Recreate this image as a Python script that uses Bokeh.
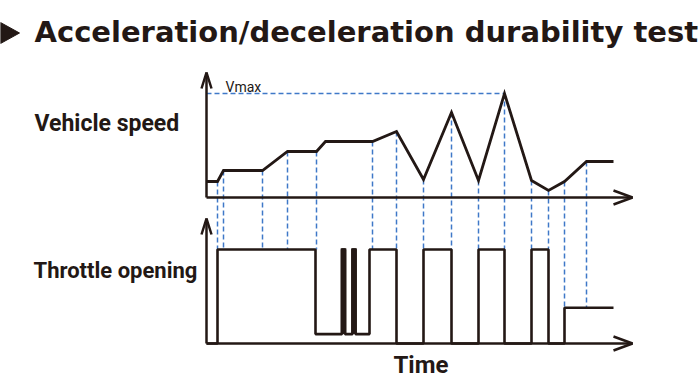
from bokeh.plotting import figure
from bokeh.models import Range1d
from bokeh.core.properties import value
from bokeh.embed import file_html
from bokeh.resources import INLINE

# ---- data (time in arbitrary units, speed & throttle in arbitrary units) ----
speed_t = [0, 11, 17, 56, 81, 110, 119, 166, 190, 217, 245, 272, 298, 325, 342, 358, 380, 407]
speed_v = [16, 16, 27, 27, 46, 46, 56, 56, 66, 18, 85, 17, 104, 17, 7, 16, 36, 36]
vmax = 104
vmax_t = 298

thr_t = [0, 11, 109, 135.5, 138.5, 146, 149, 163, 190, 217, 245, 272, 298, 325, 342, 358, 407]
thr_v = [0, 100, 10, 100, 10, 100, 10, 100, 0, 100, 0, 100, 0, 100, 0, 38, 38]

dash_t = [11, 17, 56, 81, 110, 166, 190, 217, 245, 272, 298, 325, 342, 358, 380]

title = "Acceleration/deceleration durability test"
speed_label = "Vehicle speed"
thr_label = "Throttle opening"
time_label = "Time"
vmax_label = "Vmax"

# ---- layout (canvas units) ----
X0 = 206          # time axis origin
SPEED_BASE = 197  # speed axis baseline
THR_BASE = 343    # throttle axis baseline
THR_SCALE = 0.94
X_END = 632
BLACK = "#231815"
BLUE = "#3f78c8"

def tx(t):
    return X0 + t

def sy(v):
    return SPEED_BASE - v

def ty(v):
    return THR_BASE - v * THR_SCALE

def thr_at(t):
    val = thr_v[0]
    for tt, vv in zip(thr_t, thr_v):
        if tt <= t:
            val = vv
    return val

p = figure(width=700, height=389, output_backend="svg", toolbar_location=None,
           x_range=Range1d(0, 700), y_range=Range1d(389, 0), min_border=0)
p.axis.visible = False
p.grid.visible = False
p.outline_line_color = None
p.background_fill_color = "white"

# dashed guides
xs, ys = [], []
for t in dash_t:
    sv = speed_v[speed_t.index(t)]
    top_thr = max(thr_at(t - 3), thr_at(t), thr_at(t + 3))
    xs.append([tx(t), tx(t)])
    ys.append([sy(sv), ty(top_thr)])
xs.append([tx(0), tx(vmax_t)])
ys.append([sy(vmax), sy(vmax)])
p.multi_line(xs, ys, line_color=BLUE, line_width=1.5, line_dash="5 3")

# axes with arrows
for base, top in [(SPEED_BASE, 72), (THR_BASE, 218)]:
    p.line([X0, X0], [base, top], line_color=BLACK, line_width=2.5)
    p.line([X0 - 5, X0, X0 + 5], [top + 16, top, top + 16], line_color=BLACK, line_width=2.5)
    p.line([X0, X_END], [base, base], line_color=BLACK, line_width=2.5)
    p.line([X_END - 19, X_END, X_END - 19], [base - 7, base, base + 7], line_color=BLACK, line_width=2.5)

# speed curve
p.line([tx(t) for t in speed_t], [sy(v) for v in speed_v], line_color=BLACK, line_width=2.8,
       line_join="miter")

# throttle
p.step([tx(t) for t in thr_t], [ty(v) for v in thr_v], mode="after", line_color=BLACK,
       line_width=2.6)
# short full-throttle pulses drawn as solid bars
ql, qr, qt, qb = [], [], [], []
for i in range(len(thr_t) - 1):
    if thr_v[i] == 100 and thr_t[i + 1] - thr_t[i] < 6:
        ql.append(tx(thr_t[i]) - 1.3)
        qr.append(tx(thr_t[i + 1]) + 1.3)
        qt.append(ty(100) - 1.3)
        qb.append(ty(thr_v[i + 1]))
p.quad(left=ql, right=qr, top=qt, bottom=qb, color=BLACK, line_width=0)

# texts
p.patch([0, 19, 0], [22, 32.5, 43], color=BLACK)
p.text([34], [31], text=[title], text_font=value("DejaVu Sans"), text_font_style="bold",
       text_font_size="29px", text_color=BLACK, text_baseline="alphabetic")
p.text([34], [123], text=[speed_label], text_font=value("Roboto"), text_font_style="bold",
       text_font_size="23px", text_color=BLACK, text_baseline="alphabetic")
p.text([33], [270], text=[thr_label], text_font=value("Roboto"), text_font_style="bold",
       text_font_size="22px", text_color=BLACK, text_baseline="alphabetic")
p.text([393], [364], text=[time_label], text_font=value("Roboto"), text_font_style="bold",
       text_font_size="24px", text_color=BLACK, text_baseline="alphabetic")
p.text([225], [86], text=[vmax_label], text_font=value("Roboto"),
       text_font_size="14px", text_color=BLACK, text_baseline="alphabetic")

open("out.html", "w").write(file_html(p, INLINE))
